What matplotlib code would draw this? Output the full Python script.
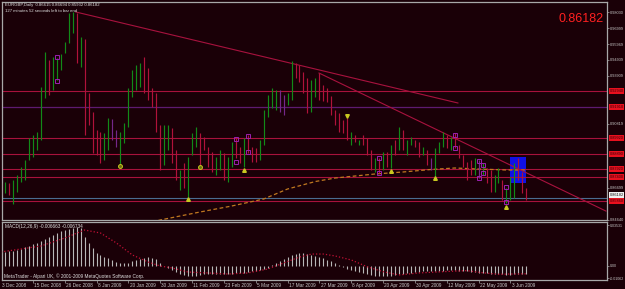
import matplotlib
matplotlib.use('Agg')
import matplotlib.pyplot as plt
import matplotlib.transforms as mtransforms
from matplotlib.patches import Rectangle

W, H = 625, 289
BG = '#1a0007'
FONT = 'Liberation Sans'

# ---------------- data ----------------
bar_kind = list("rgrggggggg" "ggrggggggr" "grrrrrggpp" "ggggggrrrr" "rggrrgrggg"
                "rrrrggrggr" "rgrrrggggg" "ppggrrrrgg" "rrrrrrrrgr" "grrrgrgrgr"
                "grggrrgrpg" "ggrgrrrrrg" "pgrrggrggg" "rrr")
bar_high = [0.8702, 0.8708, 0.8702, 0.8721, 0.8753, 0.8805, 0.8850, 0.8992, 0.9011, 0.9030,
            0.9320, 0.9545, 0.9494, 0.9513, 0.9507, 0.9533, 0.9610, 0.9797, 0.9803, 0.9797,
            0.9642, 0.9629, 0.9281, 0.9159, 0.9043, 0.9030, 0.9024, 0.9120, 0.9114, 0.9043,
            0.9030, 0.9088, 0.9314, 0.9430, 0.9462, 0.9475, 0.9513, 0.9442, 0.9314, 0.9281,
            0.9075, 0.9075, 0.9075, 0.9056, 0.8914, 0.8786, 0.8831, 0.8869, 0.9024, 0.9062,
            0.9024, 0.8998, 0.8934, 0.8901, 0.8869, 0.8914, 0.8895, 0.8869, 0.8966, 0.8992,
            0.8934, 0.8992, 0.9011, 0.8934, 0.8927, 0.8979, 0.9172, 0.9269, 0.9314, 0.9301,
            0.9301, 0.9269, 0.9281, 0.9487, 0.9475, 0.9462, 0.9417, 0.9378, 0.9365, 0.9378,
            0.9410, 0.9333, 0.9314, 0.9262, 0.9172, 0.9153, 0.9108, 0.9120, 0.9030, 0.9011,
            0.8979, 0.9011, 0.8992, 0.8914, 0.8863, 0.8863, 0.8901, 0.8901, 0.8947, 0.8979,
            0.9062, 0.9043, 0.8979, 0.8998, 0.8979, 0.8966, 0.8934, 0.8914, 0.8863, 0.8927,
            0.8966, 0.9030, 0.9011, 0.8998, 0.9024, 0.8947, 0.8882, 0.8837, 0.8850, 0.8863,
            0.8850, 0.8831, 0.8798, 0.8786, 0.8753, 0.8798, 0.8721, 0.8670, 0.8740, 0.8831,
            0.8863, 0.8773, 0.86694]
bar_low = [0.8624, 0.8637, 0.8624, 0.8566, 0.8644, 0.8708, 0.8721, 0.8850, 0.8869, 0.8914,
           0.8979, 0.9249, 0.9269, 0.9301, 0.9365, 0.9430, 0.9539, 0.9603, 0.9668, 0.9475,
           0.9449, 0.9011, 0.9075, 0.8895, 0.8882, 0.8831, 0.8850, 0.8914, 0.8979, 0.8934,
           0.8818, 0.8959, 0.9062, 0.9256, 0.9301, 0.9320, 0.9281, 0.9236, 0.9191, 0.9030,
           0.8786, 0.8818, 0.8914, 0.8831, 0.8721, 0.8657, 0.8670, 0.8612, 0.8882, 0.8934,
           0.8818, 0.8914, 0.8805, 0.8773, 0.8753, 0.8786, 0.8721, 0.8708, 0.8805, 0.8863,
           0.8831, 0.8805, 0.8895, 0.8837, 0.8837, 0.8850, 0.8947, 0.9127, 0.9185, 0.9172,
           0.9159, 0.9140, 0.9204, 0.9236, 0.9378, 0.9352, 0.9281, 0.9153, 0.9159, 0.9256,
           0.9236, 0.9230, 0.9223, 0.9140, 0.9075, 0.9030, 0.9024, 0.8979, 0.8947, 0.8966,
           0.8947, 0.8947, 0.8882, 0.8786, 0.8773, 0.8766, 0.8786, 0.8805, 0.8798, 0.8882,
           0.8914, 0.8914, 0.8882, 0.8947, 0.8934, 0.8869, 0.8882, 0.8818, 0.8786, 0.8740,
           0.8895, 0.8934, 0.8927, 0.8914, 0.8927, 0.8863, 0.8805, 0.8721, 0.8753, 0.8753,
           0.8734, 0.8753, 0.8702, 0.8644, 0.8644, 0.8702, 0.8592, 0.8573, 0.8592, 0.8605,
           0.8721, 0.8637, 0.85932]

macd_hist = [0.0121,
             0.0123, 0.0127, 0.0132, 0.0140, 0.0149, 0.0161, 0.0175, 0.0187, 0.0198, 0.0215,
             0.0235, 0.0252, 0.0270, 0.0284, 0.0299, 0.0313, 0.0321, 0.0327, 0.0333, 0.0330,
             0.0250, 0.0198, 0.0155, 0.0112, 0.0095, 0.0080, 0.0066, 0.0052, 0.0037, 0.0028,
             0.0023, 0.0028, 0.0040, 0.0052, 0.0063, 0.0071, 0.0075, 0.0069, 0.0058, 0.0023, 0.0004,
             -0.0017, -0.0034, -0.0052, -0.0069, -0.0077, -0.0086, -0.0086, -0.0082, -0.0077, -0.0073,
             -0.0069, -0.0069, -0.0069, -0.0069, -0.0069, -0.0069, -0.0065, -0.0060, -0.0060, -0.0056,
             -0.0052, -0.0047, -0.0043, -0.0034, -0.0026, -0.0017,
             0.0009, 0.0026, 0.0043, 0.0060, 0.0077, 0.0095, 0.0103, 0.0112, 0.0112, 0.0103,
             0.0095, 0.0086, 0.0077, 0.0065, 0.0052, 0.0039, 0.0026, 0.0009,
             -0.0009, -0.0022, -0.0034, -0.0043, -0.0052, -0.0060, -0.0069, -0.0077, -0.0082, -0.0086,
             -0.0086, -0.0086, -0.0082, -0.0077, -0.0069, -0.0065, -0.0060, -0.0056, -0.0052, -0.0052,
             -0.0047, -0.0047, -0.0047, -0.0047, -0.0043, -0.0039, -0.0034, -0.0034, -0.0034, -0.0039,
             -0.0043, -0.0047, -0.0052, -0.0052, -0.0056, -0.0056, -0.0060, -0.0065, -0.0069, -0.0069,
             -0.0073, -0.0077, -0.0077, -0.0073, -0.0069, -0.0067, -0.0067]

signal_idx = [0, 10, 16, 21, 25, 29, 33, 37, 40, 43, 47, 52, 57, 62, 67, 71, 75, 78, 81, 84,
              88, 92, 96, 100, 105, 111, 117, 121, 125, 132]
signal_val = [0.0121, 0.0172, 0.0241, 0.0310, 0.0284, 0.0198, 0.0095, 0.0034, 0.0000, -0.0017,
              -0.0052, -0.0060, -0.0069, -0.0060, -0.0026, 0.0026, 0.0077, 0.0103, 0.0103, 0.0086,
              0.0052, -0.0006, -0.0049, -0.0077, -0.0060, -0.0049, -0.0040, -0.0058, -0.0071, -0.0067]

ma_idx = [38, 40, 45, 50, 58, 66, 72, 79, 84, 89, 94, 101, 108, 114, 120, 127, 132]
ma_val = [0.8450, 0.84635, 0.84893, 0.85150, 0.85537, 0.85987, 0.86631, 0.87114, 0.87340,
          0.87469, 0.87598, 0.87726, 0.87887, 0.87984, 0.87919, 0.87855, 0.87855]

hlines_red = [0.9294, 0.8992, 0.8889, 0.8792, 0.8740, 0.8586]
hline_purple = 0.9191
hline_blue = 0.8605
current_price = 0.86182

trend_a = ([18.8, 114.8], [0.9803, 0.9217])
trend_b = ([79.9, 152.0], [0.9410, 0.8521])

box_x = (127.9, 131.9)
box_y = (0.8702, 0.8869)

fractal_idx = [14, 14, 59, 59, 62, 62, 95, 95, 114, 114, 120, 120, 121, 121, 127, 127]
fractal_val = [0.9513, 0.9359, 0.8985, 0.8837, 0.9005, 0.8901, 0.8863, 0.8766, 0.9011, 0.8927,
               0.8843, 0.8734, 0.8818, 0.8766, 0.8676, 0.8579]
circle_idx = [30, 50]
circle_val = [0.8811, 0.8805]
tri_up_idx = [47, 61, 98, 109, 127]
tri_up_val = [0.8599, 0.8786, 0.8779, 0.8734, 0.8547]
tri_dn_idx = [87]
tri_dn_val = [0.9135]

price_ticks = [0.98030, 0.96999, 0.95969, 0.94939, 0.93909, 0.90819, 0.86699, 0.84640]
date_labels = ['3 Dec 2008', '15 Dec 2008', '26 Dec 2008', '8 Jan 2009', '20 Jan 2009',
               '30 Jan 2009', '11 Feb 2009', '23 Feb 2009', '5 Mar 2009', '17 Mar 2009',
               '27 Mar 2009', '8 Apr 2009', '20 Apr 2009', '30 Apr 2009', '12 May 2009',
               '22 May 2009', '3 Jun 2009']
macd_ticks = [0.03531, 0.0, -0.01062]
macd_tick_labels = ['0.03531', '0.00', '-0.01062']

assert len(bar_kind) == len(bar_high) == len(bar_low) == len(macd_hist) == 133

# ---------------- figure ----------------
fig = plt.figure(figsize=(W / 100, H / 100), dpi=100, facecolor=BG)


def px_axes(l, t, r, b):
    return fig.add_axes([l / W, 1 - b / H, (r - l) / W, (b - t) / H])


ax = px_axes(2, 2, 607, 220)
ax2 = px_axes(2, 222, 607, 280)
XL = ((2 - 1) / 3.98, (607 - 1) / 3.98)

for a in (ax, ax2):
    a.set_facecolor(BG)
    a.set_xlim(*XL)
    for s in a.spines.values():
        s.set_color('#a8a8a8')
        s.set_linewidth(0.9)

ax.set_ylim(0.84635, 0.98674)
ax2.set_ylim(-0.01206, 0.0379)

GRAY = '#c8c8c8'
kind_col = {'g': '#128a18', 'r': '#b0123a', 'p': '#74288a'}
SMALL = 2.8

# blue box behind bars
ax.add_patch(Rectangle((box_x[0], box_y[0]), box_x[1] - box_x[0], box_y[1] - box_y[0],
                       facecolor='#1010e6', edgecolor='none', zorder=1))

# horizontal lines
for p in hlines_red:
    ax.axhline(p, color='#a8123c', lw=0.8, zorder=2)
ax.axhline(hline_purple, color='#5e1a70', lw=0.9, zorder=2)
ax.axhline(hline_blue, color='#4a6c90', lw=0.8, zorder=2)

# moving average
ax.plot(ma_idx, ma_val, color='#c07820', lw=0.9, ls=(0, (3, 2)), zorder=2)

# trend lines
ax.plot(*trend_a, color='#a8123e', lw=0.8, zorder=3)
ax.plot(*trend_b, color='#a8123e', lw=0.8, zorder=3)

# bars
idx = list(range(len(bar_high)))
ax.vlines(idx, bar_low, bar_high, colors=[kind_col[k] for k in bar_kind], lw=0.85, zorder=4)

# markers
ax.plot(fractal_idx, fractal_val, ls='none', marker='s', ms=2.2, mfc='none', mec='#9a20b0',
        mew=0.7, zorder=5)
ax.plot(circle_idx, circle_val, ls='none', marker='o', ms=2.8, mfc='#6a6a10', mec='#c8c820',
        mew=0.7, zorder=5)
ax.plot(tri_up_idx, tri_up_val, ls='none', marker='^', ms=2.6, mfc='#c8c820', mec='#c8c820',
        zorder=5)
ax.plot(tri_dn_idx, tri_dn_val, ls='none', marker='v', ms=2.6, mfc='#c8c820', mec='#c8c820',
        zorder=5)

# right price axis
ax.yaxis.tick_right()
ax.set_yticks(price_ticks)
ax.set_yticklabels([f'{p:.5f}' for p in price_ticks], fontsize=SMALL, family=FONT, color=GRAY)
ax.tick_params(axis='y', length=1.5, width=0.5, pad=0.6, color='#a8a8a8')
ax.set_xticks([])

trans = mtransforms.blended_transform_factory(ax.transAxes, ax.transData)
for p in hlines_red + [hline_purple]:
    ax.text(1 + 2.5 / 605, p, f'{p:.5f}', transform=trans, fontsize=SMALL, family=FONT,
            color='#300006', va='center', ha='left', clip_on=False, zorder=6,
            bbox=dict(boxstyle='square,pad=0.15', fc='#e8101e', ec='none'))
ax.text(1 + 2.5 / 605, current_price + 0.0006, f'{current_price:.5f}', transform=trans,
        fontsize=SMALL, family=FONT, color='#101010', va='center', ha='left', clip_on=False,
        zorder=7, bbox=dict(boxstyle='square,pad=0.15', fc='#f0f0f0', ec='none'))

# MACD panel
ax2.vlines(idx, 0, macd_hist, colors='#b8b8b8', lw=0.8, zorder=3)
ax2.plot(signal_idx, signal_val, ls=':', color='#c01034', lw=0.9, zorder=4)
ax2.yaxis.tick_right()
ax2.set_yticks(macd_ticks)
ax2.set_yticklabels(macd_tick_labels, fontsize=2.6, family=FONT, color=GRAY)
ax2.tick_params(axis='y', length=1.5, width=0.5, pad=0.6, color='#a8a8a8')
ax2.set_xticks([8 * k for k in range(1, len(date_labels))])
ax2.set_xticklabels([])
ax2.tick_params(axis='x', length=2, width=0.5, color='#a8a8a8')
dtrans = mtransforms.blended_transform_factory(ax2.transData, ax2.transAxes)
for k, lab in enumerate(date_labels):
    ax2.text(8 * k + 0.3, -0.06, lab, transform=dtrans, fontsize=3.4, family=FONT,
             color=GRAY, va='top', ha='left', clip_on=False)

# texts
fig.text(5 / W, 1 - 5 / H, 'EURGBP,Daily  0.86615 0.86694 0.85932 0.86182', fontsize=3.1,
         family=FONT, color='#e0e0e0', va='center', ha='left')
fig.text(5 / W, 1 - 11 / H, '127 minutes 52 seconds left to bar end', fontsize=3.1,
         family=FONT, color='#e0e0e0', va='center', ha='left')
fig.text(604 / W, 1 - 18.5 / H, f'{current_price:.5f}', fontsize=9, family=FONT,
         color='#ff2020', va='center', ha='right')
fig.text(5 / W, 1 - 226.5 / H, 'MACD(12,26,9) -0.006663 -0.006734', fontsize=3.4,
         family=FONT, color='#e0e0e0', va='center', ha='left')
fig.text(4 / W, 1 - 276 / H, 'MetaTrader - Alpari UK, © 2001-2009 MetaQuotes Software Corp.',
         fontsize=3.4, family=FONT, color='#e0e0e0', va='center', ha='left')

fig.savefig('out.png', dpi=100, facecolor=BG)
